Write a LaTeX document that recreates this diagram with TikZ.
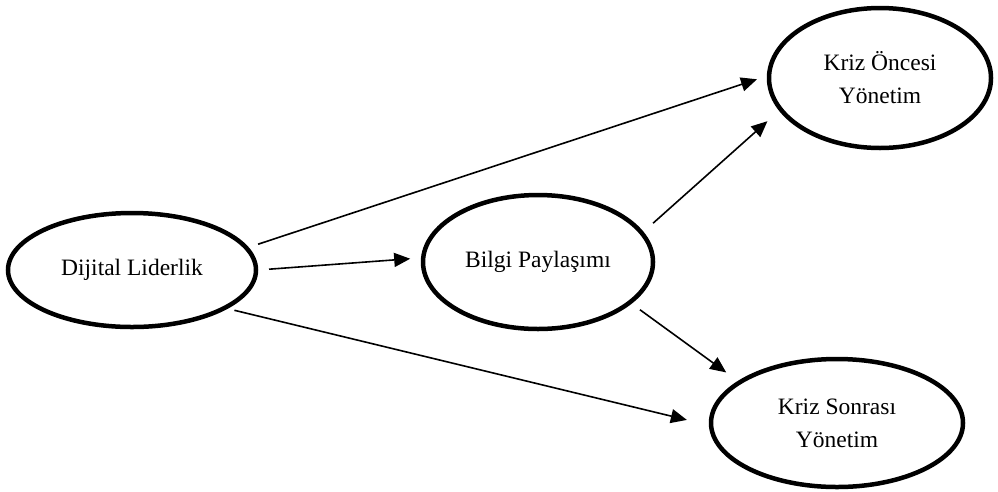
\documentclass[tikz,border=0pt]{standalone}
\usepackage{fontspec}
\setmainfont{Liberation Serif}
\usetikzlibrary{shapes.geometric,arrows.meta}
\begin{document}
\begin{tikzpicture}[x=1pt,y=-1pt,
  oval/.style={ellipse,draw=black,line width=4.5pt,inner sep=0pt,align=center,
    font=\fontsize{23.5}{33}\selectfont},
  link/.style={draw=black,line width=1.6pt,-{Triangle[length=16pt,width=14pt]}}]
\useasboundingbox[fill=white] (0,0) rectangle (998,491);
\node[oval,minimum width=248pt,minimum height=114pt] (dl) at (132,270) {Dijital Liderlik};
\node[oval,minimum width=230pt,minimum height=134pt] (bp) at (538,262) {Bilgi Paylaşımı};
\node[oval,minimum width=222pt,minimum height=140pt] (ko) at (880,78) {Kriz Öncesi\\Yönetim};
\node[oval,minimum width=252pt,minimum height=128pt] (ks) at (837,423) {Kriz Sonrası\\Yönetim};
\draw[link,shorten <=10pt,shorten >=10.3pt] (dl.11.7) -- (ko.179.4);
\draw[link,shorten <=10.8pt,shorten >=10.8pt] (dl.0.6) -- (bp.178.2);
\draw[link,shorten <=6.9pt,shorten >=22.6pt] (dl.338.3) -- (ks.181.5);
\draw[link,shorten <=12.9pt,shorten >=15.6pt] (bp.16.2) -- (ko.198.6);
\draw[link,shorten <=10.3pt,shorten >=14.5pt] (bp.336.7) -- (ks.157.7);
\end{tikzpicture}
\end{document}
